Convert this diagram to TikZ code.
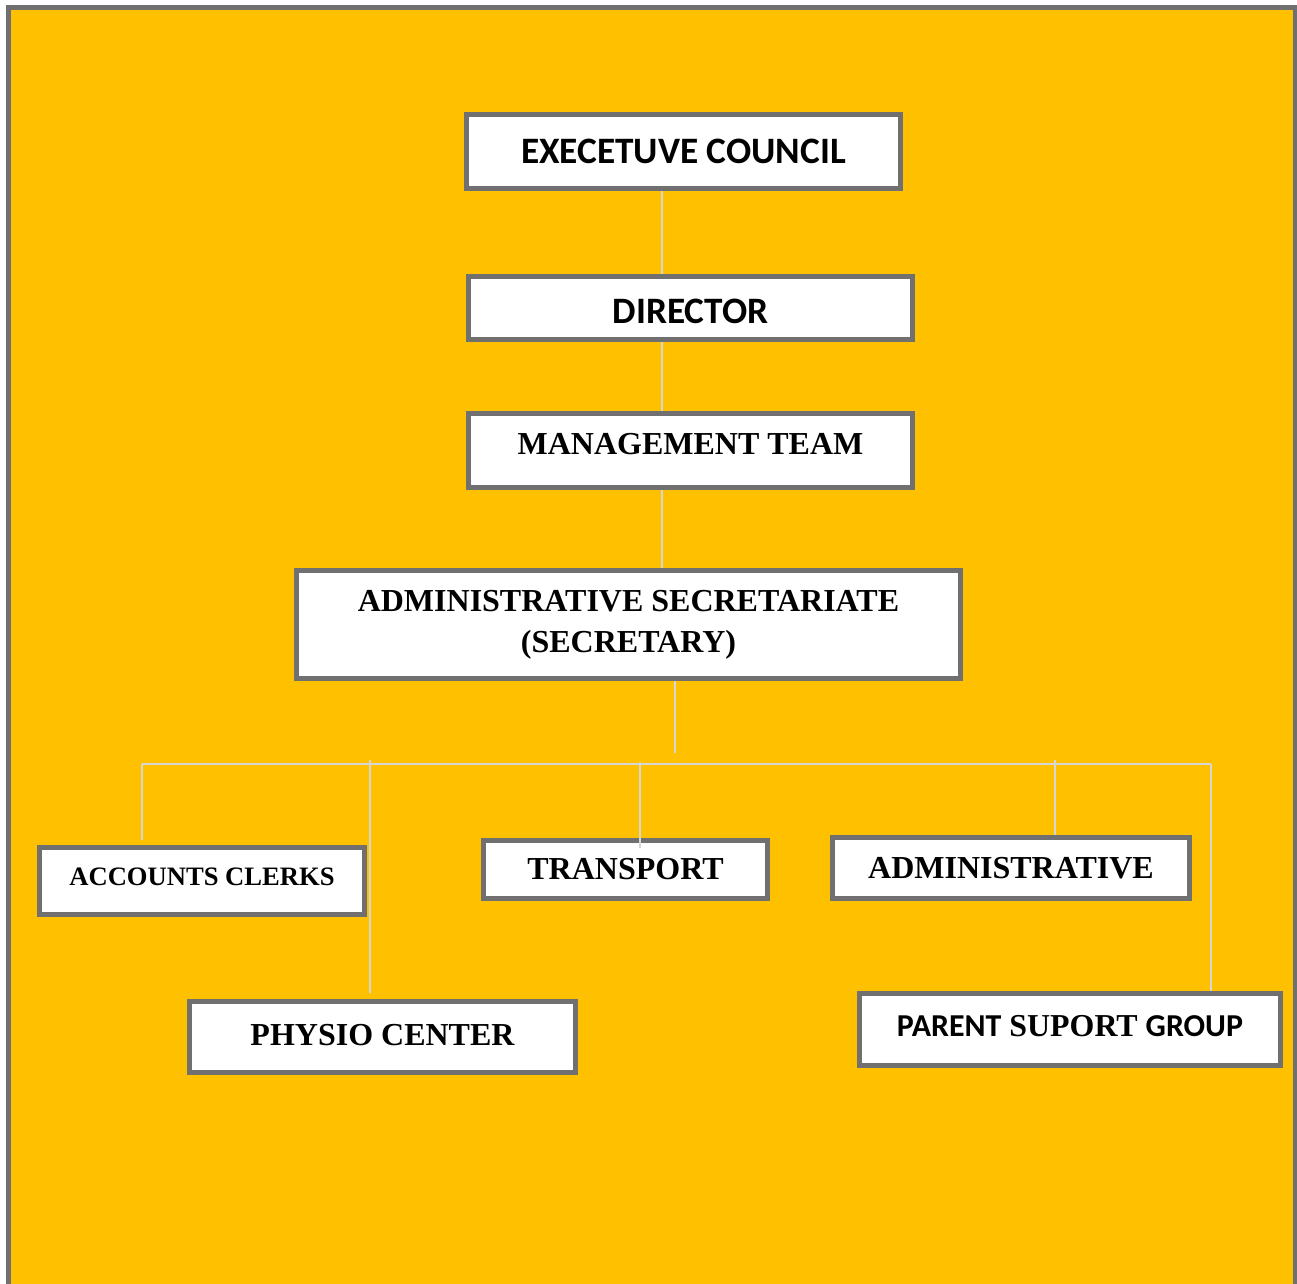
\documentclass[tikz,border=0pt]{standalone}
\usepackage{fontspec}
\setmainfont{Liberation Serif}
\newfontfamily\calibrifont{Carlito}
\usetikzlibrary{positioning}

\definecolor{sheet}{HTML}{FFC000}
\definecolor{frame}{HTML}{707070}
\definecolor{wire}{HTML}{D6D6D6}

\begin{document}
\begin{tikzpicture}[
    x=1pt, y=-1pt,
    box/.style = {draw=frame, fill=white, line width=5pt, inner sep=0pt, align=center},
    serifbig/.style = {font=\fontsize{32}{41}\selectfont\bfseries},
    sansbig/.style = {font=\calibrifont\fontsize{37.3}{42}\selectfont\bfseries},
    link/.style = {draw=wire, line width=2pt}
  ]
  \useasboundingbox (0,0) rectangle (1297,1283);

  % Page background and frame
  \fill[white] (0,0) rectangle (1297,1283);
  \fill[sheet] (8.5,7.5) rectangle (1295,1290);
  \draw[frame, line width=5pt] (8.5,1290) -- (8.5,7.5) -- (1295,7.5) -- (1295,1290);

  % Top of the chart
  \node[box, sansbig, minimum width=434pt, minimum height=74pt] (exec) at (683.5,151.5) {EXECETUVE COUNCIL};
  \node[box, sansbig, minimum width=444pt, minimum height=63pt, text height=31pt] (director) at (690.5,308) {DIRECTOR};
  \node[box, serifbig, minimum width=444pt, minimum height=74pt, text depth=13pt] (mgmt) at (690.5,450.5) {MANAGEMENT TEAM};
  \node[box, serifbig, minimum width=664pt, minimum height=108pt] (adminsec) at (628.5,624.5) {ADMINISTRATIVE SECRETARIATE\\(SECRETARY)};

  % Units under the secretariate
  \node[box, font=\fontsize{26.6}{32}\selectfont\bfseries, minimum width=325pt, minimum height=67pt, text depth=8pt] (accounts) at (202,881) {ACCOUNTS CLERKS};
  \node[box, serifbig, minimum width=284pt, minimum height=58pt] (transport) at (625.5,869.5) {TRANSPORT};
  \node[box, serifbig, minimum width=357pt, minimum height=61pt] (admin) at (1011,868) {ADMINISTRATIVE};
  \node[box, minimum width=386pt, minimum height=71pt, serifbig, text depth=5pt] (physio) at (382.5,1037) {PHYSIO CENTER};
  \node[box, minimum width=421pt, minimum height=72pt, font=\fontsize{31.9}{36}\selectfont\bfseries, text depth=7pt] (parent) at (1070,1029.5)
    {{\calibrifont PARENT} SUPORT {\calibrifont GROUP}};

  % Vertical chain
  \draw[link] ([xshift=-21.5pt]exec.south) -- ([xshift=-21.5pt]exec.south |- director.north);
  \draw[link] ([xshift=-28.5pt]director.south) -- ([xshift=-28.5pt]director.south |- mgmt.north);
  \draw[link] ([xshift=-28.5pt]mgmt.south) -- ([xshift=-28.5pt]mgmt.south |- adminsec.north);

  % Branch line
  \coordinate (busW) at (142,764);
  \coordinate (busE) at (1211,764);
  \draw[link] ([xshift=46.5pt]adminsec.south) -- ++(0,72);
  \draw[link] (busW) -- (busE);
  \draw[link, shorten >=5pt] (busW) -- (busW |- accounts.north);
  \draw[link, shorten <=-4pt, shorten >=6pt] (370,764) -- (370,764 |- physio.north);
  \draw[link, shorten <=-2pt, shorten >=-10pt] (640,764) -- (640,764 |- transport.north);
  \draw[link, shorten <=-4pt] (1055,764) -- (1055,764 |- admin.north);
  \draw[link] (busE) -- (busE |- parent.north);

\end{tikzpicture}
\end{document}
